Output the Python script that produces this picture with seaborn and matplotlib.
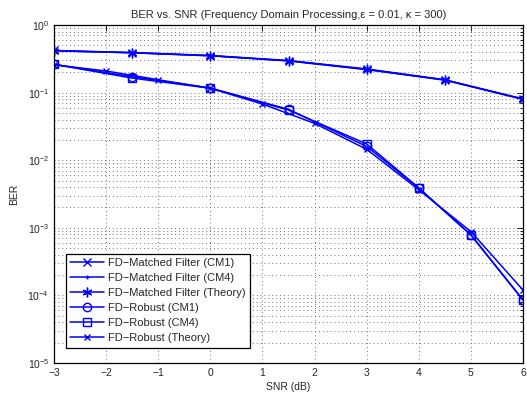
import matplotlib
matplotlib.use("Agg")
import matplotlib.pyplot as plt
import seaborn as sns
import pandas as pd
import numpy as np
from matplotlib.ticker import LogLocator, FixedLocator, NullFormatter

# SNR grid of the simulated points and the theory curve
snr_sim = [-3, -1.5, 0, 1.5, 3, 4.5, 6]
snr_rob_sim = [-3, -1.5, 0, 1.5, 3, 4, 5, 6]
snr_theory = [-3, -2, -1, 0, 1, 2, 3, 4, 5, 6]

# Matched filter BER
mf_cm1 = [0.420, 0.392, 0.354, 0.298, 0.224, 0.155, 0.0805]
mf_cm4 = [0.415, 0.388, 0.350, 0.294, 0.219, 0.153, 0.0795]
mf_theory = [0.417, 0.389, 0.352, 0.296, 0.221, 0.154, 0.0803]

# Robust receiver BER
rob_cm1 = [0.262, 0.172, 0.117, 0.0566, 0.0160, 0.00385, 0.00079, 0.000086]
rob_cm4 = [0.262, 0.164, 0.116, 0.0552, 0.0174, 0.00390, 0.00078, 0.000085]
rob_theory = [0.258, 0.209, 0.155, 0.116, 0.0678, 0.0351, 0.0145, 0.00365,
              0.00088, 0.000120]

labels = ["FD\u2212Matched Filter (CM1)", "FD\u2212Matched Filter (CM4)",
          "FD\u2212Matched Filter (Theory)", "FD\u2212Robust (CM1)",
          "FD\u2212Robust (CM4)", "FD\u2212Robust (Theory)"]

series = [
    (snr_sim, mf_cm1, "x", 6, "full"),
    (snr_sim, mf_cm4, "+", 3, "full"),
    (snr_sim, mf_theory, (6, 2, 0), 7, "full"),
    (snr_rob_sim, rob_cm1, "o", 6, "none"),
    (snr_rob_sim, rob_cm4, "s", 6, "none"),
    (snr_theory, rob_theory, "x", 4, "full"),
]

sns.set_style("white")
plt.rcParams["font.family"] = ["Liberation Sans", "DejaVu Sans"]
plt.rcParams["mathtext.fontset"] = "custom"
plt.rcParams["mathtext.rm"] = "Liberation Sans"

fig = plt.figure(figsize=(5.27, 3.94), dpi=100)
ax = fig.add_axes([0.1025, 0.0787, 0.8899, 0.8578])

for (x, y, mk, ms, fill), lab in zip(series, labels):
    df = pd.DataFrame({"snr": x, "ber": y})
    sns.lineplot(data=df, x="snr", y="ber", ax=ax, color="#0000ff",
                 marker=mk, markersize=ms, fillstyle=fill,
                 markeredgecolor="#0000ff", markeredgewidth=1.0,
                 linewidth=1.1, estimator=None, label=lab)

ax.set_yscale("log")
ax.set_xlim(-3, 6)
ax.set_ylim(1e-5, 1)
ax.xaxis.set_major_locator(FixedLocator(np.arange(-3, 7)))
ax.yaxis.set_major_locator(LogLocator(base=10, numticks=10))
ax.yaxis.set_minor_locator(LogLocator(base=10, subs=np.arange(2, 10), numticks=10))
ax.yaxis.set_minor_formatter(NullFormatter())

grid_style = dict(linestyle=(0, (1, 3)), color="0.45", linewidth=0.7)
ax.grid(which="major", axis="both", **grid_style)
ax.grid(which="minor", axis="y", **grid_style)
ax.tick_params(which="both", direction="in", top=True, right=True,
               labelsize=7.5, width=0.6, color="black")
ax.tick_params(which="major", length=4)
ax.tick_params(which="minor", length=2)
for sp in ax.spines.values():
    sp.set_color("black")
    sp.set_linewidth(0.9)

ax.set_title("BER vs. SNR (Frequency Domain Processing,\u03b5 = 0.01, \u03ba = 300)",
             fontsize=8, pad=5)
ax.set_xlabel("SNR (dB)", fontsize=7.5, labelpad=3)
ax.set_ylabel("BER", fontsize=7.5, labelpad=6)

leg = ax.legend(loc="lower left", bbox_to_anchor=(0.025, 0.045), fontsize=8,
                frameon=True, fancybox=False, edgecolor="black", framealpha=1,
                handlelength=3.0, borderpad=0.4, labelspacing=0.45,
                handletextpad=0.4, borderaxespad=0)
leg.get_frame().set_linewidth(0.9)

fig.savefig("out.png", dpi=100)
